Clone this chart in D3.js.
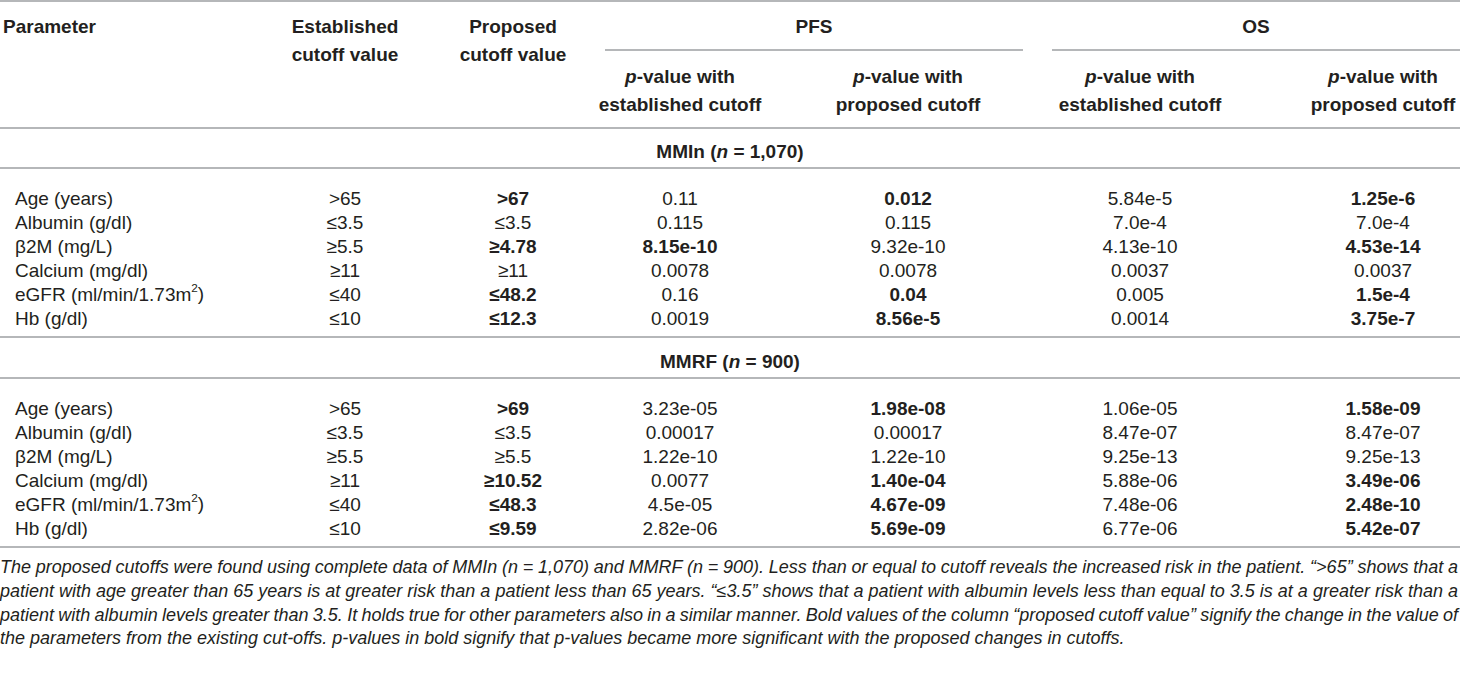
<!DOCTYPE html>
<html>
<head>
<meta charset="utf-8">
<script src="https://cdn.jsdelivr.net/npm/d3@7"></script>
<style>
  html, body { margin: 0; padding: 0; background: #fff; }
  svg text { font-family: "Liberation Sans", Arial, sans-serif; fill: #231f20; }
</style>
</head>
<body>
<svg id="tbl" width="1460" height="692"></svg>
<script>
// table content
const columns = ["param", "estCut", "propCut", "pfsEst", "pfsProp", "osEst", "osProp"];
const groups = ["MMIn", "MMRF"];
const groupN = ["1,070", "900"];

const params = ["Age (years)", "Albumin (g/dl)", "β2M (mg/L)", "Calcium (mg/dl)", "eGFR (ml/min/1.73m²)", "Hb (g/dl)"];
const estCut = [">65", "≤3.5", "≥5.5", "≥11", "≤40", "≤10"];

const propCutMMIn = [">67", "≤3.5", "≥4.78", "≥11", "≤48.2", "≤12.3"];
const pfsEstMMIn  = ["0.11", "0.115", "8.15e-10", "0.0078", "0.16", "0.0019"];
const pfsPropMMIn = ["0.012", "0.115", "9.32e-10", "0.0078", "0.04", "8.56e-5"];
const osEstMMIn   = ["5.84e-5", "7.0e-4", "4.13e-10", "0.0037", "0.005", "0.0014"];
const osPropMMIn  = ["1.25e-6", "7.0e-4", "4.53e-14", "0.0037", "1.5e-4", "3.75e-7"];

const propCutMMRF = [">69", "≤3.5", "≥5.5", "≥10.52", "≤48.3", "≤9.59"];
const pfsEstMMRF  = ["3.23e-05", "0.00017", "1.22e-10", "0.0077", "4.5e-05", "2.82e-06"];
const pfsPropMMRF = ["1.98e-08", "0.00017", "1.22e-10", "1.40e-04", "4.67e-09", "5.69e-09"];
const osEstMMRF   = ["1.06e-05", "8.47e-07", "9.25e-13", "5.88e-06", "7.48e-06", "6.77e-06"];
const osPropMMRF  = ["1.58e-09", "8.47e-07", "9.25e-13", "3.49e-06", "2.48e-10", "5.42e-07"];

// which cells are bold (row index lists per column)
const boldMMIn = { propCut: [0, 2, 4, 5], pfsEst: [2], pfsProp: [0, 4, 5], osProp: [0, 2, 4, 5] };
const boldMMRF = { propCut: [0, 3, 4, 5], pfsProp: [0, 3, 4, 5], osProp: [0, 3, 4, 5] };

const footnote = [
  "The proposed cutoffs were found using complete data of MMIn (n = 1,070) and MMRF (n = 900). Less than or equal to cutoff reveals the increased risk in the patient. “>65” shows that a",
  "patient with age greater than 65 years is at greater risk than a patient less than 65 years. “≤3.5” shows that a patient with albumin levels less than equal to 3.5 is at a greater risk than a",
  "patient with albumin levels greater than 3.5. It holds true for other parameters also in a similar manner. Bold values of the column “proposed cutoff value” signify the change in the value of",
  "the parameters from the existing cut-offs. p-values in bold signify that p-values became more significant with the proposed changes in cutoffs."
];

const W = 1460, H = 692;
const svg = d3.select("#tbl");

// column centres
const colX = d3.scaleOrdinal()
  .domain(columns)
  .range([15, 345, 513, 680, 908, 1140, 1383]);

const fs = 19;      // body text
const fsHead = 19;  // bold header text
const ruleColor = "#9d9fa2";

function rule(y, x1 = 0, x2 = W) {
  svg.append("line")
    .attr("x1", x1).attr("x2", x2)
    .attr("y1", y).attr("y2", y)
    .attr("stroke", ruleColor)
    .attr("stroke-width", 1.6);
}

function txt(x, y, opts = {}) {
  return svg.append("text")
    .attr("x", x).attr("y", y)
    .attr("dy", "0.35em")
    .attr("font-size", opts.size || fs)
    .attr("font-weight", opts.bold ? "bold" : null)
    .attr("text-anchor", opts.anchor || "middle");
}

// header
rule(1);
const hd = { bold: true, size: fsHead };
txt(3, 26, { ...hd, anchor: "start" }).text("Parameter");
txt(colX("estCut"), 26, hd).text("Established");
txt(colX("estCut"), 54, hd).text("cutoff value");
txt(colX("propCut"), 26, hd).text("Proposed");
txt(colX("propCut"), 54, hd).text("cutoff value");
txt(814, 26, hd).text("PFS");
txt(1256, 26, hd).text("OS");
rule(50, 605, 1023);
rule(50, 1052, W);

[["pfsEst", "established cutoff"], ["pfsProp", "proposed cutoff"],
 ["osEst", "established cutoff"], ["osProp", "proposed cutoff"]].forEach(([c, l2]) => {
  const t = txt(colX(c), 76, hd);
  t.append("tspan").attr("font-style", "italic").text("p");
  t.append("tspan").text("-value with");
  txt(colX(c), 104, hd).text(l2);
});
rule(128);

const rowY = d3.scaleLinear().domain([0, 5]);

function section(gi, top, propCut, pfsEst, pfsProp, osEst, osProp, bold) {
  const t = txt(W / 2, top + 23, hd);
  t.append("tspan").text(groups[gi] + " (");
  t.append("tspan").attr("font-style", "italic").text("n");
  t.append("tspan").text(" = " + groupN[gi] + ")");
  rule(top + 40);

  rowY.range([top + 70, top + 190]);
  const cols = { estCut, propCut, pfsEst, pfsProp, osEst, osProp };
  params.forEach((p, i) => {
    const y = rowY(i);
    const lab = txt(colX("param"), y, { anchor: "start" });
    if (p.includes("m²")) {
      lab.append("tspan").text("eGFR (ml/min/1.73m");
      lab.append("tspan").attr("font-size", fs * 0.62).attr("dy", "-0.75em").text("2");
      lab.append("tspan").attr("dy", "0.45em").text(")");
    } else {
      lab.text(p);
    }
    Object.keys(cols).forEach(c => {
      const b = (bold[c] || []).includes(i);
      txt(colX(c), y, { bold: b }).text(cols[c][i]);
    });
  });
  rule(top + 209);
}

section(0, 128, propCutMMIn, pfsEstMMIn, pfsPropMMIn, osEstMMIn, osPropMMIn, boldMMIn);
section(1, 338, propCutMMRF, pfsEstMMRF, pfsPropMMRF, osEstMMRF, osPropMMRF, boldMMRF);

// footnote, justified by word spacing
const fnY = d3.scaleLinear().domain([0, 3]).range([567, 638]);
footnote.forEach((line, i) => {
  const t = svg.append("text")
    .attr("x", 0).attr("y", fnY(i))
    .attr("dy", "0.35em")
    .attr("font-size", 18)
    .attr("font-style", "italic")
    .text(line);
  const nat = t.node().getComputedTextLength();
  if (i < footnote.length - 1) {
    const gaps = line.split(" ").length - 1;
    t.attr("word-spacing", (1458 - nat) / gaps);
  }
});
</script>
</body>
</html>
